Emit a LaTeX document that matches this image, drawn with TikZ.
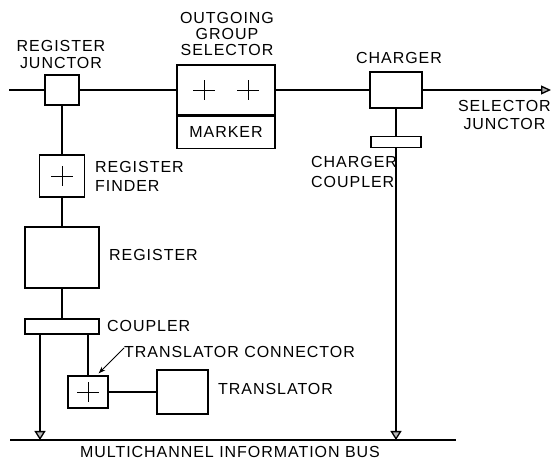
\documentclass[tikz,border=0pt]{standalone}
\usepackage{fontspec}
\setmainfont{Liberation Sans}[LetterSpace=6]
\usetikzlibrary{arrows.meta}
\tikzset{
  blk/.style={draw, line width=1.3pt, inner sep=0pt},
  lbl/.style={font=\fontsize{16}{18}\selectfont, inner sep=0pt},
  wire/.style={line width=1.3pt},
  busdrop/.style={wire, -{Triangle[width=11pt,length=9pt,fill=gray!55]}},
  cross/.style={inner sep=0pt, minimum width=22pt, minimum height=20pt,
    path picture={\draw[line width=0.9pt]
      (path picture bounding box.west) -- (path picture bounding box.east)
      (path picture bounding box.south) -- (path picture bounding box.north);}}
}
\begin{document}
\begin{tikzpicture}[x=1pt,y=-1pt]
\useasboundingbox (0,0) rectangle (552,462);
% main line
\coordinate (in) at (9,90);
\coordinate (out) at (551,90);
\node[blk, minimum width=34pt, minimum height=30pt] (rj) at (62,90) {};
\node[blk, minimum width=98pt, minimum height=50pt] (ogs) at (226,90) {};
\node[blk, lbl, minimum width=98pt, minimum height=32pt, anchor=north] (mk) at (ogs.south) {MARKER};
\node[cross] (ogsa) at ([xshift=-22pt]ogs.center) {};
\node[cross] (ogsb) at ([xshift=22pt]ogs.center) {};
\node[blk, minimum width=52pt, minimum height=36pt] (chg) at (396,90) {};
\node[blk, minimum width=50pt, minimum height=11pt] (cc) at (396,142) {};
% register chain
\node[blk, minimum width=45pt, minimum height=42pt] (rf) at (62,176) {};
\node[cross] (rfx) at (rf) {};
\node[blk, minimum width=74pt, minimum height=61pt] (reg) at (62,257.5) {};
\node[blk, minimum width=74pt, minimum height=15pt] (cpl) at (62,326.5) {};
\node[blk, minimum width=40pt, minimum height=32pt] (tc) at (88,392) {};
\node[cross] (tcx) at (tc) {};
\node[blk, minimum width=51pt, minimum height=44pt] (tr) at (182.5,392) {};
% bus
\coordinate (busL) at (10,440);
\coordinate (busR) at (456,440);
\draw[wire] (busL) -- (busR);

\draw[wire] (in) -- (rj.west) (rj.east) -- (ogs.west) (ogs.east) -- (chg.west);
\draw[wire, -{Triangle[width=9pt,length=10pt,fill=gray!70]}] (chg.east) -- (out);
\draw[wire] (chg.south) -- (cc.north);
\draw[busdrop] (cc.south) -- (cc.south |- busL);
\draw[wire] (rj.south) -- (rf.north);
\draw[wire] (rf.south) -- (reg.north);
\draw[wire] (reg.south) -- (cpl.north);
\draw[busdrop] ([xshift=-22pt]cpl.south) -- ([xshift=-22pt]cpl.south |- busL);
\draw[wire] ([xshift=26pt]cpl.south) -- (tc.north);
\draw[wire] (tc.east) -- (tr.west);

% labels
\node[lbl, align=center] (rjl) at (61,54) {REGISTER\\[-1pt]JUNCTOR};
\node[lbl, align=center] (ogsl) at (227,34) {OUTGOING\\[-2pt]GROUP\\[-2pt]SELECTOR};
\node[lbl] (chgl) at (399,58) {CHARGER};
\node[lbl, align=center, anchor=east] (sjl) at (551,115) {SELECTOR\\JUNCTOR};
\node[lbl, align=left, anchor=west] (ccl) at (311,172) {CHARGER\\[2pt]COUPLER};
\node[lbl, align=left, anchor=west] (rfl) at (95,176.5) {REGISTER\\[1pt]FINDER};
\node[lbl, anchor=west] (regl) at (109,255) {REGISTER};
\node[lbl, anchor=west] (cpll) at (107,326) {COUPLER};
\node[lbl, anchor=west] (tcl) at (124,352) {TRANSLATOR CONNECTOR};
\node[lbl, anchor=west] (trl) at (218,389) {TRANSLATOR};
\node[lbl] (busl) at (230,452) {MULTICHANNEL INFORMATION BUS};
\draw[line width=0.8pt, -{Stealth[length=7pt,width=5pt]}] ([yshift=4pt]tcl.west) -- ([xshift=-10pt,yshift=2pt]tc.north east);
\end{tikzpicture}
\end{document}
